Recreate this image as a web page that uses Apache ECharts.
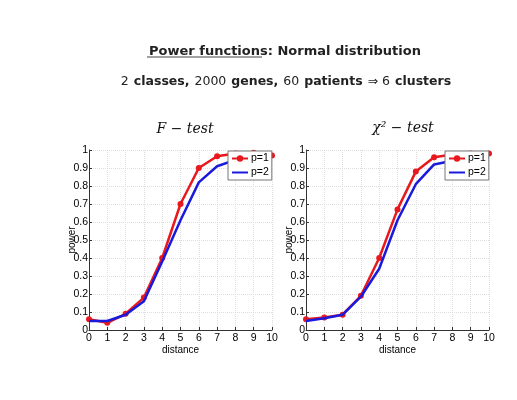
<!DOCTYPE html>
<html>
<head>
<meta charset="utf-8">
<script src="https://cdn.jsdelivr.net/npm/echarts@6/dist/echarts.min.js"></script>
<style>
  html, body { margin: 0; padding: 0; background: #fff; }
  #chart { width: 517px; height: 400px; }
</style>
</head>
<body>
<div id="chart"></div>
<script>
var distance = [0, 1, 2, 3, 4, 5, 6, 7, 8, 9, 10];
var yTicks = [0, 0.1, 0.2, 0.3, 0.4, 0.5, 0.6, 0.7, 0.8, 0.9, 1];

// F-test
var fP1 = [0.06, 0.04, 0.09, 0.18, 0.40, 0.70, 0.90, 0.965, 0.98, 0.985, 0.97];
var fP2 = [0.05, 0.05, 0.085, 0.16, 0.38, 0.61, 0.82, 0.91, 0.945, 0.96, 0.97];
// chi2-test
var cP1 = [0.06, 0.07, 0.085, 0.19, 0.40, 0.67, 0.88, 0.96, 0.975, 0.98, 0.98];
var cP2 = [0.05, 0.065, 0.085, 0.185, 0.34, 0.61, 0.81, 0.92, 0.94, 0.955, 0.96];

var axisFont = 'Liberation Sans';
var chart = echarts.init(document.getElementById('chart'));

function xAxis(idx) {
  return {
    type: 'value', gridIndex: idx, min: 0, max: 10, interval: 1,
    name: 'distance', nameLocation: 'middle', nameGap: 11,
    nameTextStyle: { fontFamily: axisFont, fontSize: 10, color: '#000' },
    axisLine: { lineStyle: { color: '#333', width: 1 } },
    axisTick: { inside: true, length: 3, lineStyle: { color: '#333' } },
    axisLabel: { fontFamily: axisFont, fontSize: 10.5, color: '#000', margin: 3 },
    splitLine: { show: true, lineStyle: { color: '#ddd', type: 'dotted' } }
  };
}
function yAxis(idx) {
  return {
    type: 'value', gridIndex: idx, min: 0, max: 1, interval: 0.1,
    name: 'power', nameLocation: 'middle', nameGap: 12, nameMoveOverlap: false,
    nameTextStyle: { fontFamily: axisFont, fontSize: 10, color: '#000' },
    axisLine: { lineStyle: { color: '#333', width: 1 } },
    axisTick: { inside: true, length: 3, lineStyle: { color: '#333' } },
    axisLabel: {
      fontFamily: axisFont, fontSize: 10.5, color: '#000', margin: 1,
      formatter: function (v) { return String(Math.round(v * 10) / 10); }
    },
    splitLine: { show: true, lineStyle: { color: '#ddd', type: 'dotted' } }
  };
}
function pairs(ys) {
  return distance.map(function (d, i) { return [d, ys[i]]; });
}
function redSeries(idx, ys) {
  return {
    name: 'p=1', type: 'line', xAxisIndex: idx, yAxisIndex: idx,
    data: pairs(ys), symbol: 'circle', symbolSize: 6,
    lineStyle: { color: '#e8191e', width: 2.5 },
    itemStyle: { color: '#e8191e' }, z: 3
  };
}
function blueSeries(idx, ys) {
  // no markers: hide the symbol so the legend shows only the line
  return {
    name: 'p=2', type: 'line', xAxisIndex: idx, yAxisIndex: idx,
    data: pairs(ys), symbol: 'none',
    lineStyle: { color: '#1a1adc', width: 2.5 },
    itemStyle: { color: '#1a1adc', opacity: 0 }, z: 4
  };
}
function legend(left) {
  return {
    data: ['p=1', 'p=2'],
    orient: 'vertical', left: left, top: 151,
    itemWidth: 16, itemHeight: 8, itemGap: 3,
    padding: [2, 3, 2, 3],
    backgroundColor: '#fff', borderColor: '#777', borderWidth: 1, borderRadius: 0,
    textStyle: { fontFamily: axisFont, fontSize: 10.5, color: '#000', padding: [0, 0, 0, -2] },
    z: 10
  };
}

chart.setOption({
  animation: false,
  backgroundColor: '#fff',
  title: [
    {
      text: '{u|Power functions}{b|: Normal distribution}',
      left: 280, top: 40, textAlign: 'center',
      textStyle: {
        rich: {
          u: { fontFamily: 'DejaVu Sans', fontSize: 13, fontWeight: 'bold', color: '#222' },
          b: { fontFamily: 'DejaVu Sans', fontSize: 13, fontWeight: 'bold', color: '#222' }
        }
      }
    },
    {
      text: '{n|2} {b|classes,} {n|2000} {b|genes,} {n|60} {b|patients} {n|\u21D2 6} {b|clusters}',
      left: 281, top: 68, textAlign: 'center',
      textStyle: {
        rich: {
          n: { fontFamily: 'DejaVu Sans', fontSize: 12.5, color: '#222', fontWeight: 'normal' },
          b: { fontFamily: 'DejaVu Sans', fontSize: 12.5, color: '#222', fontWeight: 'bold' }
        }
      }
    },
    {
      text: 'F \u2212 test', left: 180, top: 117, textAlign: 'center',
      textStyle: { fontFamily: 'DejaVu Serif', fontStyle: 'italic', fontWeight: 'normal', fontSize: 14, color: '#111' }
    },
    {
      text: '\u03C7\u00B2 \u2212 test', left: 398, top: 116, textAlign: 'center',
      textStyle: { fontFamily: 'DejaVu Serif', fontStyle: 'italic', fontWeight: 'normal', fontSize: 14, color: '#111' }
    }
  ],
  graphic: [
    { type: 'line', shape: { x1: 147, y1: 57, x2: 262, y2: 57 }, style: { stroke: '#444', lineWidth: 1 } }
  ],
  legend: [legend(228), legend(445)],
  grid: [
    { left: 89, top: 150, width: 183, height: 180 },
    { left: 306, top: 150, width: 183, height: 180 }
  ],
  xAxis: [xAxis(0), xAxis(1)],
  yAxis: [yAxis(0), yAxis(1)],
  series: [
    redSeries(0, fP1), blueSeries(0, fP2),
    redSeries(1, cP1), blueSeries(1, cP2)
  ]
});
</script>
</body>
</html>
